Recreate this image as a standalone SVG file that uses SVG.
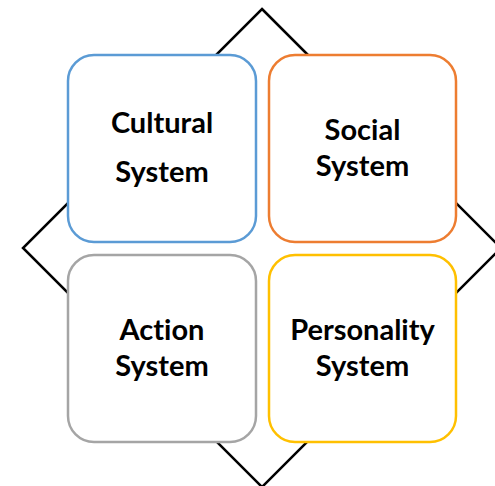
<svg xmlns="http://www.w3.org/2000/svg" width="495" height="486" viewBox="0 0 495 486">
  <style>
    .box { fill: #ffffff; stroke-width: 2.5; }
    .lbl { font-family: Lato, "Liberation Sans", sans-serif; font-weight: bold; font-size: 29px; fill: #000000; text-anchor: middle; font-variant-ligatures: none; font-feature-settings: "liga" 0, "clig" 0; }
  </style>
  <rect width="495" height="486" fill="#ffffff"/>
  <!-- diamond frame behind the four systems -->
  <g id="connectors">
    <polygon points="262,9 501,248 262,487 23,248" fill="none" stroke="#000000" stroke-width="2.5"/>
  </g>
  <g id="cultural">
    <rect class="box" x="68" y="55" width="188" height="187" rx="26" stroke="#5B9BD5"/>
    <text class="lbl" x="162" y="133">Cultural</text>
    <text class="lbl" x="162" y="182">System</text>
  </g>
  <g id="social">
    <rect class="box" x="269" y="55" width="187" height="187" rx="26" stroke="#ED7D31"/>
    <text class="lbl" x="362.5" y="140">Social</text>
    <text class="lbl" x="362.5" y="176">System</text>
  </g>
  <g id="action">
    <rect class="box" x="68" y="255" width="188" height="187" rx="26" stroke="#A5A5A5"/>
    <text class="lbl" x="162" y="340">Action</text>
    <text class="lbl" x="162" y="376">System</text>
  </g>
  <g id="personality">
    <rect class="box" x="269" y="255" width="187" height="187" rx="26" stroke="#FFC000"/>
    <text class="lbl" x="362.5" y="340">Personality</text>
    <text class="lbl" x="362.5" y="376">System</text>
  </g>
</svg>
